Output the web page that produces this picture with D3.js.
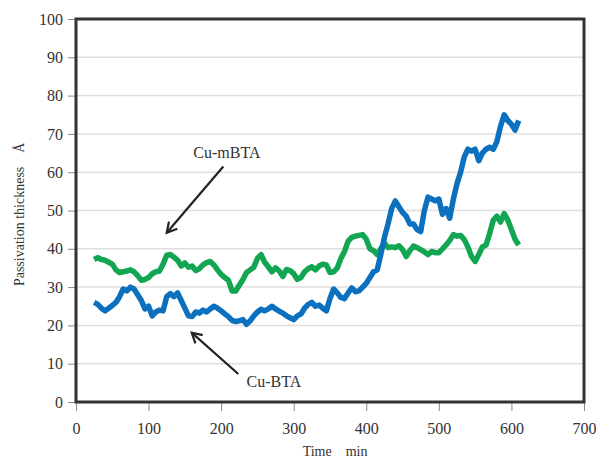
<!DOCTYPE html>
<html>
<head>
<meta charset="utf-8">
<script src="https://cdn.jsdelivr.net/npm/d3@7"></script>
<style>
  body { margin: 0; background: #fff; }
  text { font-family: "Liberation Serif", "DejaVu Serif", serif; fill: #333; }
</style>
</head>
<body>
<svg id="chart" width="596" height="459"></svg>
<script>
const times = d3.range(25, 611, 5);

const cuBTA = [26, 25.5, 24.5, 23.8, 24.5, 25.2, 26, 27.5, 29.5, 29, 30, 29.5, 28, 26.5, 24.3, 25,
  22.5, 23.5, 24, 23.8, 27.5, 28.3, 27.5, 28.5, 26.5, 24.5, 22.5, 22.3, 23.5, 23.2, 24, 23.5,
  24.3, 25, 24.5, 23.8, 23, 22.3, 21.3, 21, 21.2, 21.5, 20.3, 21.2, 22.5, 23.5, 24.2, 23.8,
  24.3, 25, 24.3, 23.7, 23.2, 22.5, 22, 21.5, 22.5, 23, 24.5, 25.5, 26, 25, 25.3, 24.5,
  23.8, 27, 29.5, 28.5, 27.3, 27, 28.5, 29.8, 28.8, 29, 30, 31, 32.5, 34, 34.5, 38.5,
  43, 46.5, 50.5, 52.5, 51, 49.5, 48.5, 46.5, 46.5, 45, 44.5, 50, 53.5, 53, 52.5, 53,
  49, 50.5, 48, 53, 57, 60, 64, 66, 65.5, 66, 63, 65, 66, 66.5, 66, 68,
  72, 75, 73.5, 72.5, 71, 73.5];

const cuMBTA = [37.2, 37.7, 37.2, 37, 36.5, 36, 34.5, 33.8, 34, 34.2, 34.5, 34, 33, 31.8, 32, 32.5,
  33.5, 34, 34.2, 36, 38.3, 38.5, 37.8, 37, 35.5, 36.3, 35.2, 35.5, 34.3, 34.8, 35.8, 36.4,
  36.7, 35.8, 34.5, 33.3, 32.5, 31.8, 29, 29, 30.5, 32, 33.8, 34.5, 35.2, 37.5, 38.5, 36.5,
  35.3, 34, 35, 34.2, 32.8, 34.6, 34.3, 33.5, 32, 32.5, 34, 34.8, 35.3, 34.5, 35.5, 36,
  35.8, 33.8, 34, 35, 37.5, 39.3, 42, 43, 43.3, 43.5, 43.7, 42.5, 40, 39.5, 38.5, 40,
  41.5, 40.3, 40.5, 40.3, 40.8, 39.8, 38, 39.5, 40.7, 40.3, 39.8, 39.2, 38.5, 39.3, 39, 39,
  40, 41, 42.2, 43.7, 43.3, 43.5, 42.4, 40.5, 38, 36.7, 38.5, 40.5, 41, 44, 47.5, 48.5,
  47, 49.2, 47.5, 45, 42.5, 41];

const xTicks = [0, 100, 200, 300, 400, 500, 600, 700];
const yTicks = [0, 10, 20, 30, 40, 50, 60, 70, 80, 90, 100];

const margin = { top: 19, right: 12, bottom: 57, left: 76 };
const width = 596 - margin.left - margin.right;
const height = 459 - margin.top - margin.bottom;

const svg = d3.select("#chart");

svg.append("defs").append("marker")
    .attr("id", "arrow")
    .attr("viewBox", "0 0 12 12")
    .attr("refX", 10).attr("refY", 6)
    .attr("markerWidth", 6).attr("markerHeight", 6)
    .attr("markerUnits", "strokeWidth")
    .attr("orient", "auto")
    .append("path")
    .attr("d", "M1,1 L10,6 L1,11")
    .attr("fill", "none")
    .attr("stroke", "#222")
    .attr("stroke-width", 2);

const g = svg.append("g")
    .attr("transform", `translate(${margin.left}, ${margin.top})`);

const x = d3.scaleLinear().domain([0, 700]).range([0, width]);
const y = d3.scaleLinear().domain([0, 100]).range([height, 0]);

// gridlines
g.append("g")
    .selectAll("line")
    .data(yTicks.filter(d => d > 0 && d < 100))
    .join("line")
    .attr("x1", 0).attr("x2", width)
    .attr("y1", d => y(d)).attr("y2", d => y(d))
    .attr("stroke", "#e0dede")
    .attr("stroke-width", 1.5);

const yAxis = g.append("g")
    .call(d3.axisLeft(y).tickValues(yTicks).tickSize(8).tickPadding(5));
yAxis.select(".domain").remove();
yAxis.selectAll("line").attr("stroke", "#888");
yAxis.selectAll("text").attr("font-size", "16px").attr("fill", "#333")
    .style("font-family", "'Liberation Serif', serif");

const xAxis = g.append("g")
    .attr("transform", `translate(0, ${height})`)
    .call(d3.axisBottom(x).tickValues(xTicks).tickSize(9).tickPadding(12));
xAxis.select(".domain").remove();
xAxis.selectAll("line").attr("stroke", "#888");
xAxis.selectAll("text").attr("font-size", "16px").attr("fill", "#333")
    .style("font-family", "'Liberation Serif', serif");

// series
const line = d3.line()
    .x((d, i) => x(times[i]))
    .y(d => y(d));

g.append("path")
    .datum(cuMBTA)
    .attr("d", line)
    .attr("fill", "none")
    .attr("stroke", "#12a552")
    .attr("stroke-width", 5.5)
    .attr("stroke-linejoin", "round");

g.append("path")
    .datum(cuBTA)
    .attr("d", line)
    .attr("fill", "none")
    .attr("stroke", "#0b70bd")
    .attr("stroke-width", 5.5)
    .attr("stroke-linejoin", "round");

// frame
g.append("rect")
    .attr("x", 0).attr("y", 0)
    .attr("width", width).attr("height", height)
    .attr("fill", "none")
    .attr("stroke", "#333")
    .attr("stroke-width", 3);

// annotations
g.append("line")
    .attr("x1", x(203)).attr("y1", y(61.5))
    .attr("x2", x(125)).attr("y2", y(44.2))
    .attr("stroke", "#222").attr("stroke-width", 2.2)
    .attr("marker-end", "url(#arrow)");
g.append("text")
    .attr("x", x(208)).attr("y", y(63.8))
    .attr("text-anchor", "middle")
    .attr("font-size", "16px")
    .text("Cu-mBTA");

g.append("line")
    .attr("x1", x(223.6)).attr("y1", y(7.3))
    .attr("x2", x(159.4)).attr("y2", y(18.1))
    .attr("stroke", "#222").attr("stroke-width", 2.2)
    .attr("marker-end", "url(#arrow)");
g.append("text")
    .attr("x", x(235)).attr("y", y(3.8))
    .attr("font-size", "16px")
    .text("Cu-BTA");

// axis titles
svg.append("text")
    .attr("x", margin.left + x(357))
    .attr("y", 456)
    .attr("text-anchor", "middle")
    .attr("font-size", "14px")
    .text("Time\u3000min");

svg.append("text")
    .attr("transform", `translate(24, ${margin.top + y(49)}) rotate(-90)`)
    .attr("text-anchor", "middle")
    .attr("font-size", "14px")
    .text("Passivation thickness\u3000Å");
</script>
</body>
</html>
